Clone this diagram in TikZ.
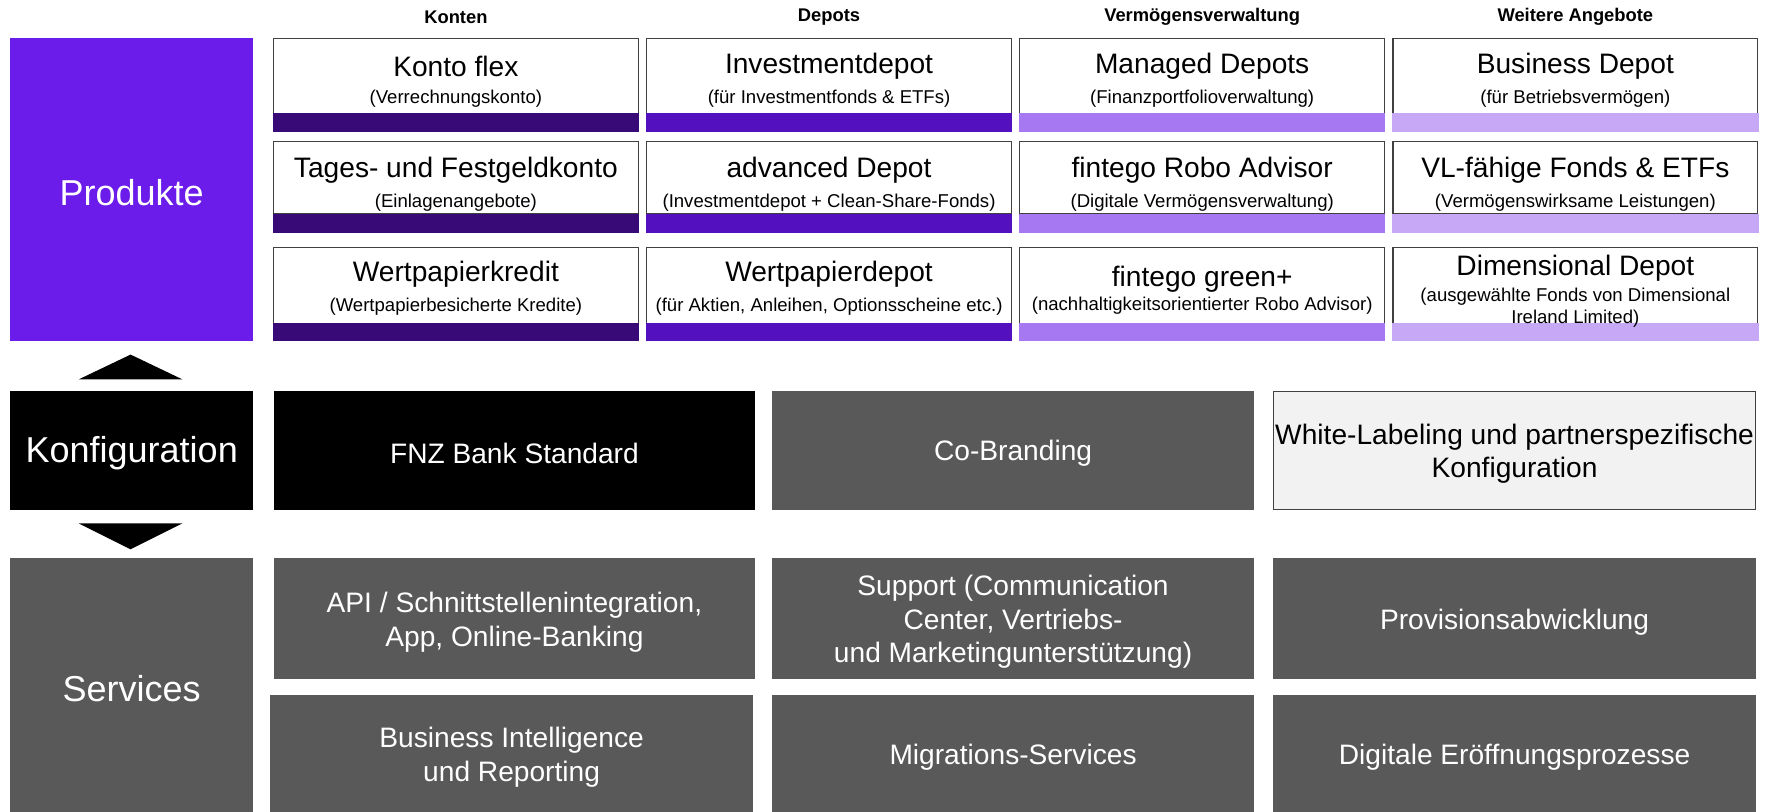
\documentclass[tikz,border=0pt]{standalone}
\usepackage{fontspec}
\setmainfont{Liberation Sans}
\definecolor{prodc}{HTML}{6B1CEB}
\definecolor{konc}{HTML}{380A78}
\definecolor{depc}{HTML}{5210BE}
\definecolor{vvc}{HTML}{A678F2}
\definecolor{weic}{HTML}{C6A8F7}
\definecolor{grayc}{HTML}{595959}
\definecolor{lightc}{HTML}{F2F2F2}
\definecolor{edgec}{HTML}{404040}
\newcommand\fbig{\fontsize{32}{38}\selectfont}
\newcommand\fmid{\fontsize{25}{30}\selectfont}
\newcommand\fsub{\fontsize{16.5}{19}\selectfont}
\newcommand\fhead{\fontsize{16.3}{18}\selectfont\bfseries}
\begin{document}
\begin{tikzpicture}[x=1pt,y=-1pt,
  area/.style={inner sep=0pt, outer sep=0pt, draw=none},
  wbox/.style={area, fill=white, draw=edgec, line width=0.9pt},
  bar/.style={area},
  ttl/.style={inner sep=0pt, font=\fmid, align=center, yshift=-2pt},
  sub/.style={inner sep=0pt, font=\fsub, align=center, yshift=-1.5pt},
  head/.style={inner sep=0pt, font=\fhead},
  big/.style={inner sep=0pt, font=\fbig, text=white, yshift=-3pt},
  mtxt/.style={inner sep=0pt, font=\fmid, align=center, yshift=-3pt},
]
\useasboundingbox (0,0) rectangle (1568,721);
\fill[white] (0,0) rectangle (1568,721);

% headers
\node[head] (h1) at (405,15) {Konten};
\node[head] (h2) at (736.5,15) {Depots};
\node[head] (h3) at (1068,15) {Vermögensverwaltung};
\node[head] (h4) at (1399.5,15) {Weitere Angebote};

% left category boxes
\node[area, fill=prodc, minimum width=216, minimum height=269] (prod) at (117,168.5) {};
\node[big] at (prod.center) {Produkte};
\node[area, fill=black, minimum width=216, minimum height=106] (konf) at (117,400) {};
\node[big] at (konf.center) {Konfiguration};
\node[area, fill=grayc, minimum width=216, minimum height=226] (serv) at (117,609) {};
\node[big] at (serv.center) {Services};

% triangles
\fill[black] (70,337) -- (162,337) -- (116,315) -- cycle;
\fill[black] (70,465) -- (162,465) -- (116,488) -- cycle;

% product boxes: white parts
\foreach \cx/\nm in {405/a,736.5/b,1068/c,1399.5/d}{
  \node[wbox, minimum width=324, minimum height=67] (\nm1) at (\cx,67.5) {};
  \node[wbox, minimum width=324, minimum height=64] (\nm2) at (\cx,158) {};
  \node[wbox, minimum width=324, minimum height=67] (\nm3) at (\cx,253.5) {};
}
% bars
\foreach \cx/\col/\nm in {405/konc/a,736.5/depc/b,1068/vvc/c,1399.5/weic/d}{
  \node[bar, fill=\col, minimum width=325.5, minimum height=16.5] (\nm1b) at (\cx,109) {};
  \node[bar, fill=\col, minimum width=325.5, minimum height=17] (\nm2b) at (\cx,198.5) {};
  \node[bar, fill=\col, minimum width=325.5, minimum height=16.5] (\nm3b) at (\cx,295) {};
}

% texts row 1
\node[ttl] at (405,57) {Konto flex};
\node[sub] at (405,86) {(Verrechnungskonto)};
\node[ttl] at (736.5,57) {Investmentdepot};
\node[sub] at (736.5,86) {(für Investmentfonds \& ETFs)};
\node[ttl] at (1068,57) {Managed Depots};
\node[sub] at (1068,86) {(Finanzportfolioverwaltung)};
\node[ttl] at (1399.5,57) {Business Depot};
\node[sub] at (1399.5,86) {(für Betriebsvermögen)};
% row 2
\node[ttl] at (405,149) {Tages- und Festgeldkonto};
\node[sub] at (405,179) {(Einlagenangebote)};
\node[ttl] at (736.5,149) {advanced Depot};
\node[sub] at (736.5,179) {(Investmentdepot + Clean-Share-Fonds)};
\node[ttl] at (1068,149) {fintego Robo Advisor};
\node[sub] at (1068,179) {(Digitale Vermögensverwaltung)};
\node[ttl] at (1399.5,149) {VL-fähige Fonds \& ETFs};
\node[sub] at (1399.5,179) {(Vermögenswirksame Leistungen)};
% row 3
\node[ttl] at (405,242) {Wertpapierkredit};
\node[sub] at (405,271) {(Wertpapierbesicherte Kredite)};
\node[ttl] at (736.5,242) {Wertpapierdepot};
\node[sub] at (736.5,271) {(für Aktien, Anleihen, Optionsscheine etc.)};
\node[ttl] at (1068,246) {fintego green+};
\node[sub] at (1068,270) {(nachhaltigkeitsorientierter Robo Advisor)};
\node[ttl] at (1399.5,236) {Dimensional Depot};
\node[sub] at (1399.5,272) {(ausgewählte Fonds von Dimensional\\Ireland Limited)};

% configuration row
\node[area, fill=black, minimum width=428, minimum height=106] (fnz) at (457,400) {};
\node[mtxt, text=white] at (fnz.center) {FNZ Bank Standard};
\node[area, fill=grayc, minimum width=428, minimum height=106] (cob) at (900,400) {};
\node[mtxt, text=white] at (cob.center) {Co-Branding};
\node[area, fill=lightc, draw=edgec, line width=0.9pt, minimum width=428, minimum height=105] (wl) at (1345.5,400) {};
\node[mtxt, text=black] at (wl.center) {White-Labeling und partnerspezifische\\Konfiguration};

% services rows
\node[area, fill=grayc, minimum width=428, minimum height=107] (s1) at (457,549.5) {};
\node[mtxt, text=white] at (s1.center) {API / Schnittstellenintegration,\\App, Online-Banking};
\node[area, fill=grayc, minimum width=428, minimum height=107] (s2) at (900,549.5) {};
\node[mtxt, text=white] at (s2.center) {Support (Communication\\Center, Vertriebs-\\und Marketingunterstützung)};
\node[area, fill=grayc, minimum width=429, minimum height=107] (s3) at (1345.5,549.5) {};
\node[mtxt, text=white] at (s3.center) {Provisionsabwicklung};
\node[area, fill=grayc, minimum width=429, minimum height=105] (s4) at (454.5,669.5) {};
\node[mtxt, text=white] at (s4.center) {Business Intelligence\\und Reporting};
\node[area, fill=grayc, minimum width=428, minimum height=105] (s5) at (900,669.5) {};
\node[mtxt, text=white] at (s5.center) {Migrations-Services};
\node[area, fill=grayc, minimum width=429, minimum height=105] (s6) at (1345.5,669.5) {};
\node[mtxt, text=white] at (s6.center) {Digitale Eröffnungsprozesse};
\end{tikzpicture}
\end{document}
